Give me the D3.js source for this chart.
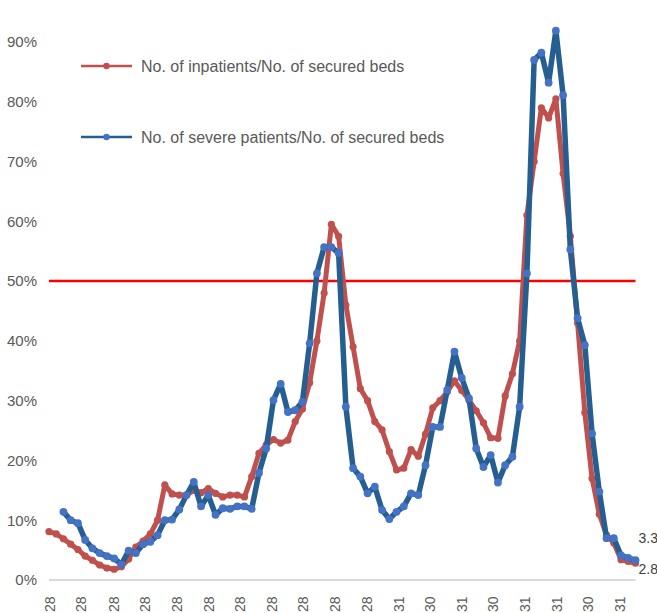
<!DOCTYPE html>
<html><head><meta charset="utf-8">
<script src="https://cdn.jsdelivr.net/npm/d3@7"></script>
<style>
body{margin:0;background:#fff}
svg{display:block;font-family:"Liberation Sans",Arial,sans-serif}
</style>
</head><body>
<svg id="c" width="657" height="613"></svg>
<script>
// ---- data ----
const firstWeek = "2020-04-27";          // first weekly observation (inpatients)
const severeStartIndex = 2;              // severe series starts two weeks later
const seriesNames = [
  "No. of inpatients/No. of secured beds",
  "No. of severe patients/No. of secured beds"
];
const inpatients = [
  8.1, 7.7, 6.9, 6.0, 5.1, 4.0, 3.3, 2.5, 2.0, 1.8,
  2.2, 3.5, 5.5, 6.5, 7.7, 10.0, 15.9, 14.4, 14.2, 14.2,
  15.0, 14.6, 15.3, 14.5, 13.9, 14.2, 14.2, 13.9, 17.3, 21.2,
  22.6, 23.5, 22.9, 23.4, 26.5, 28.6, 33.0, 40.0, 48.0, 59.5,
  57.5, 46.0, 39.0, 32.0, 30.0, 26.5, 25.1, 21.5, 18.4, 18.7,
  21.8, 20.7, 24.4, 28.8, 30.0, 31.5, 33.3, 31.7, 30.1, 28.3,
  26.3, 23.8, 23.7, 30.8, 34.5, 40.0, 61.0, 70.0, 79.0, 77.3,
  80.5, 68.0, 57.5, 43.0, 28.0, 17.0, 11.0, 7.5, 6.2, 3.4,
  3.1, 2.8
];
const severe = [
  11.4, 10.0, 9.5, 6.7, 5.3, 4.5, 4.0, 3.6, 2.6, 4.9,
  4.5, 6.0, 6.4, 7.5, 10.0, 10.1, 11.8, 14.2, 16.4, 12.3,
  14.2, 10.9, 12.0, 11.9, 12.3, 12.3, 11.9, 17.9, 22.0, 30.1,
  32.8, 28.1, 28.4, 29.8, 39.6, 51.3, 55.7, 55.7, 54.7, 29.0,
  18.7, 17.3, 14.5, 15.6, 11.7, 10.2, 11.4, 12.3, 14.5, 14.2,
  19.2, 25.6, 25.6, 31.8, 38.2, 33.8, 30.4, 22.0, 18.9, 20.9,
  16.3, 19.2, 20.6, 29.0, 51.3, 87.0, 88.2, 83.2, 91.9, 81.1,
  55.3, 43.8, 39.3, 24.5, 14.8, 7.0, 7.0, 4.1, 3.7, 3.3
];
const tickDates = [
  "2020-04-28","2020-05-28","2020-06-28","2020-07-28","2020-08-28","2020-09-28",
  "2020-10-28","2020-11-28","2020-12-28","2021-01-28","2021-02-28","2021-03-31",
  "2021-04-30","2021-05-31","2021-06-30","2021-07-31","2021-08-31","2021-09-30","2021-10-31"
];
const tickLabels = ["28","28","28","28","28","28","28","28","28","28","28","31","30","31","30","31","31","30","31"];
const yTicks = [0, 10, 20, 30, 40, 50, 60, 70, 80, 90];
const threshold = 50;
const endLabels = ["2.8", "3.3"];

// ---- build ----
const parse = d3.utcParse("%Y-%m-%d");
const start = parse(firstWeek);
const weeks = d3.range(inpatients.length).map(i => d3.utcDay.offset(start, 7 * i));
const redPts = inpatients.map((v, i) => ({date: weeks[i], v}));
const bluePts = severe.map((v, i) => ({date: weeks[i + severeStartIndex], v}));
const tDates = tickDates.map(parse);

const svg = d3.select("#c");
const x = d3.scaleUtc().domain([tDates[0], tDates[tDates.length - 1]]).range([50, 620]);
const y = d3.scaleLinear().domain([0, 90]).range([580, 42]);

const RED = "#c0504d", BLUE_LINE = "#255e91", BLUE_DOT = "#4472c4", GREY = "#595959";

// baseline
const x0 = x(weeks[0]), x1 = x(weeks[weeks.length - 1]);
svg.append("line").attr("x1", x0).attr("x2", x1).attr("y1", y(0)).attr("y2", y(0))
  .attr("stroke", "#d9d9d9").attr("stroke-width", 2);

// y axis labels
const yAxis = d3.axisLeft(y).tickValues(yTicks).tickFormat(d => d + "%").tickSize(0).tickPadding(0);
const gy = svg.append("g").attr("transform", "translate(37,0)").call(yAxis);
gy.select(".domain").remove();
gy.selectAll("text").attr("fill", GREY).style("font-size", "15px").style("font-family", "'Liberation Sans',Arial,sans-serif");

// x axis labels
const xAxis = d3.axisBottom(x).tickValues(tDates).tickFormat((d, i) => tickLabels[i]).tickSize(0).tickPadding(0);
const gx = svg.append("g").attr("transform", "translate(0,596)").call(xAxis);
gx.select(".domain").remove();
gx.selectAll("text")
  .attr("fill", GREY).style("font-size", "14px").style("font-family", "'Liberation Sans',Arial,sans-serif")
  .attr("transform", "rotate(-90)").attr("text-anchor", "end").attr("x", -0.5).attr("y", 0).attr("dy", "0.35em");

// threshold line
svg.append("line").attr("x1", x0).attr("x2", x1).attr("y1", y(threshold)).attr("y2", y(threshold))
  .attr("stroke", "#ff0000").attr("stroke-width", 2.5);

const line = d3.line().x(d => x(d.date)).y(d => y(d.v));

// red series
svg.append("path").datum(redPts).attr("d", line).attr("fill", "none")
  .attr("stroke", RED).attr("stroke-width", 5).attr("stroke-linejoin", "round").attr("stroke-linecap", "round");
svg.append("g").selectAll("circle").data(redPts).join("circle")
  .attr("cx", d => x(d.date)).attr("cy", d => y(d.v)).attr("r", 3.6).attr("fill", RED);

// blue series
svg.append("path").datum(bluePts).attr("d", line).attr("fill", "none")
  .attr("stroke", BLUE_LINE).attr("stroke-width", 5.5).attr("stroke-linejoin", "round").attr("stroke-linecap", "round");
svg.append("g").selectAll("circle").data(bluePts).join("circle")
  .attr("cx", d => x(d.date)).attr("cy", d => y(d.v)).attr("r", 3.9).attr("fill", BLUE_DOT);

// end labels
const lastRed = redPts[redPts.length - 1], lastBlue = bluePts[bluePts.length - 1];
svg.append("text").attr("x", x(lastBlue.date) + 3).attr("y", y(lastBlue.v) - 22).attr("dy", "0.35em")
  .attr("fill", "#404040").style("font-size", "14px").text(endLabels[1]);
svg.append("text").attr("x", x(lastRed.date) + 3).attr("y", y(lastRed.v) + 6).attr("dy", "0.35em")
  .attr("fill", "#404040").style("font-size", "14px").text(endLabels[0]);

// legend
const legend = [
  {name: seriesNames[0], line: RED, dot: RED, y: 66},
  {name: seriesNames[1], line: BLUE_LINE, dot: BLUE_DOT, y: 137}
];
const lg = svg.append("g").selectAll("g").data(legend).join("g")
  .attr("transform", d => `translate(0,${d.y})`);
lg.append("line").attr("x1", 81).attr("x2", 132).attr("y1", 0).attr("y2", 0)
  .attr("stroke", d => d.line).attr("stroke-width", 2.5);
lg.append("circle").attr("cx", 106.5).attr("cy", 0).attr("r", 3.2).attr("fill", d => d.dot);
lg.append("text").attr("x", 141).attr("y", 0).attr("dy", "0.35em").attr("fill", GREY)
  .style("font-size", "16px").text(d => d.name);
</script>
</body></html>
